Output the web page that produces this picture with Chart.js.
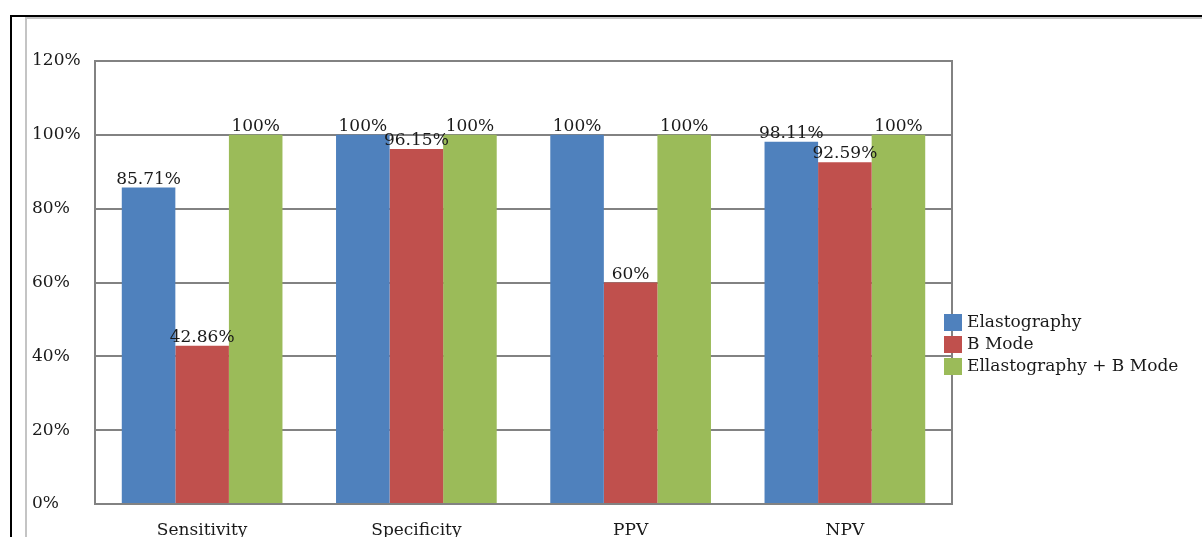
<!DOCTYPE html>
<html>
<head>
<meta charset="utf-8">
<script src="https://cdn.jsdelivr.net/npm/chart.js@4/dist/chart.umd.min.js"></script>
<style>
  html, body { margin: 0; padding: 0; background: #fff; overflow: hidden; }
  #wrap { position: relative; width: 1202px; height: 537px; }
</style>
</head>
<body>
<div id="wrap"><canvas id="c"></canvas></div>
<script>
// Diagnostic performance of each imaging approach
const categories = ['Sensitivity', 'Specificity', 'PPV', 'NPV'];
const elastography = [85.71, 100, 100, 98.11];
const bMode = [42.86, 96.15, 60, 92.59];
const combined = [100, 100, 100, 100];
const seriesNames = ['Elastography', 'B Mode', 'Ellastography + B Mode'];
const yTickValues = [0, 20, 40, 60, 80, 100, 120];

const FONT = { family: '"DejaVu Serif", serif', size: 17 };
const TEXT = '#1a1a1a';
const GRID = '#828282';

// White page with the outer frame lines
const framePlugin = {
  id: 'frame',
  beforeDraw(chart) {
    const ctx = chart.ctx;
    ctx.save();
    ctx.fillStyle = '#fff';
    ctx.fillRect(0, 0, chart.width, chart.height);
    ctx.fillStyle = '#c4c4c4';
    ctx.fillRect(25, 17, chart.width - 25, 2);
    ctx.fillRect(25, 17, 2, chart.height - 17);
    ctx.fillStyle = '#000';
    ctx.fillRect(10, 15, chart.width - 10, 2);
    ctx.fillRect(10, 15, 2, chart.height - 15);
    ctx.restore();
  }
};

// Right edge of the plot area
const plotEdgePlugin = {
  id: 'plotEdge',
  beforeDatasetsDraw(chart) {
    const { ctx, chartArea: a } = chart;
    ctx.save();
    ctx.strokeStyle = GRID;
    ctx.lineWidth = 2;
    ctx.beginPath();
    ctx.moveTo(a.right, a.top - 1);
    ctx.lineTo(a.right, a.bottom + 1);
    ctx.stroke();
    ctx.restore();
  }
};

// Percentage above every bar
const valueLabelPlugin = {
  id: 'valueLabels',
  afterDatasetsDraw(chart) {
    const ctx = chart.ctx;
    ctx.save();
    ctx.font = `${FONT.size}px ${FONT.family}`;
    ctx.fillStyle = TEXT;
    ctx.textAlign = 'center';
    ctx.textBaseline = 'alphabetic';
    chart.data.datasets.forEach((ds, i) => {
      chart.getDatasetMeta(i).data.forEach((bar, j) => {
        ctx.fillText(ds.data[j] + '%', bar.x, bar.y - 4);
      });
    });
    ctx.restore();
  }
};

// Legend block to the right of the plot
const legendPlugin = {
  id: 'sideLegend',
  afterDraw(chart) {
    const ctx = chart.ctx;
    ctx.save();
    ctx.font = `${FONT.size}px ${FONT.family}`;
    ctx.textBaseline = 'middle';
    ctx.textAlign = 'left';
    chart.data.datasets.forEach((ds, i) => {
      const top = 314 + i * 22;
      ctx.fillStyle = ds.backgroundColor;
      ctx.fillRect(944, top, 18, 17);
      ctx.fillStyle = TEXT;
      ctx.fillText(ds.label, 967, top + 9);
    });
    ctx.restore();
  }
};

new Chart(document.getElementById('c'), {
  type: 'bar',
  data: {
    labels: categories,
    datasets: [
      { label: seriesNames[0], data: elastography, backgroundColor: '#4f81bd' },
      { label: seriesNames[1], data: bMode, backgroundColor: '#c0504d' },
      { label: seriesNames[2], data: combined, backgroundColor: '#9bbb59' }
    ]
  },
  options: {
    responsive: true,
    maintainAspectRatio: false,
    animation: false,
    layout: { padding: { left: 32, top: 61, right: 250, bottom: 0 } },
    datasets: { bar: { categoryPercentage: 0.75, barPercentage: 1.0, borderWidth: 0 } },
    plugins: { legend: { display: false }, tooltip: { enabled: false } },
    scales: {
      x: {
        grid: { display: false },
        border: { display: true, color: GRID, width: 2 },
        ticks: { color: TEXT, font: FONT, padding: 8, maxRotation: 0 },
        afterFit(s) { s.height = 33; }
      },
      y: {
        min: 0,
        max: 120,
        afterBuildTicks(s) { s.ticks = yTickValues.map(v => ({ value: v })); },
        grid: { color: GRID, lineWidth: 2, drawTicks: false },
        border: { display: true, color: GRID, width: 2 },
        ticks: {
          color: TEXT,
          font: FONT,
          padding: 0,
          crossAlign: 'far',
          callback: v => v + '%'
        },
        afterFit(s) { s.width = 63; }
      }
    }
  },
  plugins: [framePlugin, plotEdgePlugin, valueLabelPlugin, legendPlugin]
});
</script>
</body>
</html>
